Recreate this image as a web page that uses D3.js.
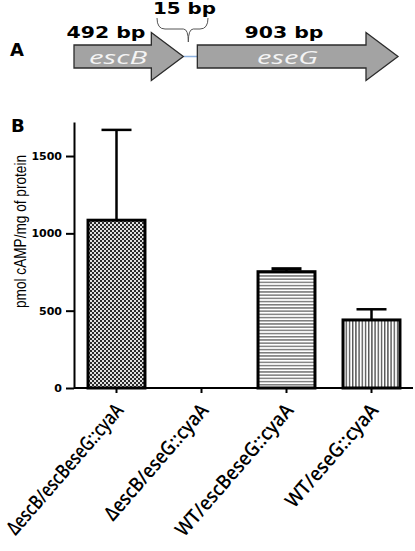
<!DOCTYPE html>
<html>
<head>
<meta charset="utf-8">
<script src="https://cdn.jsdelivr.net/npm/d3@7"></script>
<style>
  body { margin: 0; background: #fff; }
  svg { display: block; }
</style>
</head>
<body>
<svg></svg>
<script>
// panel A - gene map
let genes = ['escB', 'eseG']
let geneLengths = [492, 903]
let gapLength = 15

// panel B - bars
let strains = ['ΔescB/escBeseG::cyaA', 'ΔescB/eseG::cyaA', 'WT/escBeseG::cyaA', 'WT/eseG::cyaA']
let camp = [1085, 0, 752, 440]
let campErr = [584, 0, 18, 69]
let yTicks = [0, 500, 1000, 1500]

let width = 415
let height = 551

let svg = d3.select('svg')
    .attr('width', width)
    .attr('height', height)

let defs = svg.append('defs')

// fine checker
let p1 = defs.append('pattern').attr('id', 'checker')
    .attr('patternUnits', 'userSpaceOnUse').attr('width', 4).attr('height', 4)
p1.append('rect').attr('width', 4).attr('height', 4).attr('fill', '#e0e0e0')
p1.append('rect').attr('width', 2).attr('height', 2).attr('fill', '#2a2a2a')
p1.append('rect').attr('x', 2).attr('y', 2).attr('width', 2).attr('height', 2).attr('fill', '#2a2a2a')

// horizontal lines
let p2 = defs.append('pattern').attr('id', 'hlines')
    .attr('patternUnits', 'userSpaceOnUse').attr('width', 4).attr('height', 3.2)
p2.append('rect').attr('width', 4).attr('height', 3.2).attr('fill', '#fff')
p2.append('rect').attr('width', 4).attr('height', 1.5).attr('fill', '#7c7c7c')

// vertical lines
let p3 = defs.append('pattern').attr('id', 'vlines')
    .attr('patternUnits', 'userSpaceOnUse').attr('width', 3.2).attr('height', 4)
p3.append('rect').attr('width', 3.2).attr('height', 4).attr('fill', '#fff')
p3.append('rect').attr('width', 1.4).attr('height', 4).attr('fill', '#555')

let fills = ['url(#checker)', 'url(#checker)', 'url(#hlines)', 'url(#vlines)']

// ---------- panel A ----------
let gapPx = 14
let bpScale = d3.scaleLinear()
    .domain([0, geneLengths[0] + geneLengths[1]])
    .range([74, 398 - gapPx])

let midY = 56.5
let bodyH = 23
let headH = 48
let headL = 32

let geneX0 = [bpScale(0), bpScale(geneLengths[0]) + gapPx]
let geneX1 = [bpScale(geneLengths[0]), bpScale(geneLengths[0] + geneLengths[1]) + gapPx]

let arrowPath = (x0, x1) => {
    let p = d3.path()
    p.moveTo(x0, midY - bodyH / 2)
    p.lineTo(x1 - headL, midY - bodyH / 2)
    p.lineTo(x1 - headL, midY - headH / 2)
    p.lineTo(x1, midY)
    p.lineTo(x1 - headL, midY + headH / 2)
    p.lineTo(x1 - headL, midY + bodyH / 2)
    p.lineTo(x0, midY + bodyH / 2)
    p.closePath()
    return p.toString()
}

svg.append('line')
    .attr('x1', geneX1[0]).attr('x2', geneX0[1])
    .attr('y1', midY).attr('y2', midY)
    .attr('stroke', '#8fb3e0').attr('stroke-width', 1.5)

svg.selectAll('.gene')
    .data(genes)
    .enter()
    .append('path')
    .attr('class', 'gene')
    .attr('d', (g, i) => arrowPath(geneX0[i], geneX1[i]))
    .attr('fill', '#a3a3a3')
    .attr('stroke', '#2b2b2b')
    .attr('stroke-width', 1.3)

svg.selectAll('.geneName')
    .data(genes)
    .enter()
    .append('text')
    .attr('class', 'geneName')
    .attr('x', (g, i) => i == 0 ? 118 : 287.5)
    .attr('y', 64)
    .attr('text-anchor', 'middle')
    .attr('font-family', 'Open Sans')
    .attr('font-style', 'italic')
    .attr('font-size', 18)
    .attr('textLength', (g, i) => i == 0 ? 58 : 61)
    .attr('lengthAdjust', 'spacingAndGlyphs')
    .attr('fill', '#f4f4f4')
    .text(g => g)

svg.selectAll('.geneLen')
    .data(geneLengths)
    .enter()
    .append('text')
    .attr('class', 'geneLen')
    .attr('x', (l, i) => i == 0 ? 106 : 284)
    .attr('y', 38)
    .attr('text-anchor', 'middle')
    .attr('font-family', 'DejaVu Sans')
    .attr('font-weight', 'bold')
    .attr('font-size', 15)
    .attr('textLength', 79)
    .attr('lengthAdjust', 'spacingAndGlyphs')
    .text(l => l + ' bp')

// brace over the gap
let bx0 = 157, bx1 = 208, bm = (geneX1[0] + geneX0[1]) / 2 - 2
let brace = d3.path()
brace.moveTo(bx0, 18)
brace.quadraticCurveTo(bx0, 29, bx0 + 8, 29)
brace.lineTo(bm - 5, 29)
brace.quadraticCurveTo(bm, 29, bm, 42)
brace.quadraticCurveTo(bm, 29, bm + 5, 29)
brace.lineTo(bx1 - 8, 29)
brace.quadraticCurveTo(bx1, 29, bx1, 18)
svg.append('path')
    .attr('d', brace.toString())
    .attr('fill', 'none')
    .attr('stroke', '#555')
    .attr('stroke-width', 1)

svg.append('text')
    .attr('x', 184.5).attr('y', 14)
    .attr('text-anchor', 'middle')
    .attr('font-family', 'DejaVu Sans')
    .attr('font-weight', 'bold')
    .attr('font-size', 15)
    .attr('textLength', 63)
    .attr('lengthAdjust', 'spacingAndGlyphs')
    .text(gapLength + ' bp')

svg.append('text')
    .attr('x', 10).attr('y', 56)
    .attr('font-family', 'DejaVu Sans')
    .attr('font-weight', 'bold')
    .attr('font-size', 18)
    .text('A')

// ---------- panel B ----------
svg.append('text')
    .attr('x', 11).attr('y', 132)
    .attr('font-family', 'DejaVu Sans')
    .attr('font-weight', 'bold')
    .attr('font-size', 18)
    .text('B')

let xScale = d3.scaleBand()
    .domain(strains)
    .range([74, 414])
    .paddingInner(0.33)
    .paddingOuter(0.165)

let yScale = d3.scaleLinear()
    .domain([0, 1720])
    .range([388, 122])

// bars
svg.selectAll('.bar')
    .data(strains)
    .enter()
    .append('rect')
    .attr('class', 'bar')
    .attr('x', s => xScale(s))
    .attr('width', xScale.bandwidth())
    .attr('y', (s, i) => yScale(camp[i]))
    .attr('height', (s, i) => yScale(0) - yScale(camp[i]))
    .attr('fill', (s, i) => fills[i])
    .attr('stroke', '#000')
    .attr('stroke-width', (s, i) => camp[i] > 0 ? 3 : 2)

// error bars
let errG = svg.selectAll('.err')
    .data(strains.filter((s, i) => campErr[i] > 0))
    .enter()
    .append('g')
    .attr('class', 'err')
errG.append('line')
    .attr('x1', s => xScale(s) + xScale.bandwidth() / 2)
    .attr('x2', s => xScale(s) + xScale.bandwidth() / 2)
    .attr('y1', s => yScale(camp[strains.indexOf(s)]))
    .attr('y2', s => yScale(camp[strains.indexOf(s)] + campErr[strains.indexOf(s)]))
    .attr('stroke', '#000').attr('stroke-width', 2.5)
errG.append('line')
    .attr('x1', s => xScale(s) + xScale.bandwidth() / 2 - 15)
    .attr('x2', s => xScale(s) + xScale.bandwidth() / 2 + 15)
    .attr('y1', s => yScale(camp[strains.indexOf(s)] + campErr[strains.indexOf(s)]))
    .attr('y2', s => yScale(camp[strains.indexOf(s)] + campErr[strains.indexOf(s)]))
    .attr('stroke', '#000')
    .attr('stroke-width', s => strains.indexOf(s) == 2 ? 3.5 : 2.5)

// axes
let yAxis = d3.axisLeft(yScale).tickValues(yTicks).tickFormat(d3.format('d'))
    .tickSize(8).tickSizeOuter(0).tickPadding(4)
let yG = svg.append('g')
    .attr('transform', 'translate(74,0)')
    .call(yAxis)
yG.select('.domain').attr('stroke-width', 2)
yG.selectAll('.tick line').attr('stroke-width', 2)
yG.selectAll('.tick text')
    .attr('font-family', 'DejaVu Sans')
    .attr('font-weight', 'bold')
    .attr('font-size', 11)
    .attr('fill', '#000')

let xAxis = d3.axisBottom(xScale).tickSize(5).tickSizeOuter(0).tickFormat('')
let xG = svg.append('g')
    .attr('transform', 'translate(0,388)')
    .call(xAxis)
xG.select('.domain').attr('stroke-width', 2).attr('d', 'M74,0H413')
xG.selectAll('.tick line').attr('stroke-width', 2)

let labelLen = [166, 147, 168, 130]
svg.selectAll('.xlab')
    .data(strains)
    .enter()
    .append('text')
    .attr('class', 'xlab')
    .attr('transform', s => 'translate(' + (xScale(s) + xScale.bandwidth() / 2 + 8) + ',411) rotate(-49)')
    .attr('text-anchor', 'end')
    .attr('font-family', 'Open Sans')
    .attr('font-weight', 600)
    .attr('font-size', 20)
    .attr('textLength', (s, i) => labelLen[i])
    .attr('lengthAdjust', 'spacingAndGlyphs')
    .attr('fill', '#000')
    .text(s => s)

svg.append('text')
    .attr('transform', 'translate(25.5,231.5) rotate(-90)')
    .attr('text-anchor', 'middle')
    .attr('font-family', 'Liberation Sans')
    .attr('font-size', 16)
    .attr('textLength', 153)
    .attr('lengthAdjust', 'spacingAndGlyphs')
    .attr('fill', '#000')
    .text('pmol cAMP/mg of protein')
</script>
</body>
</html>
